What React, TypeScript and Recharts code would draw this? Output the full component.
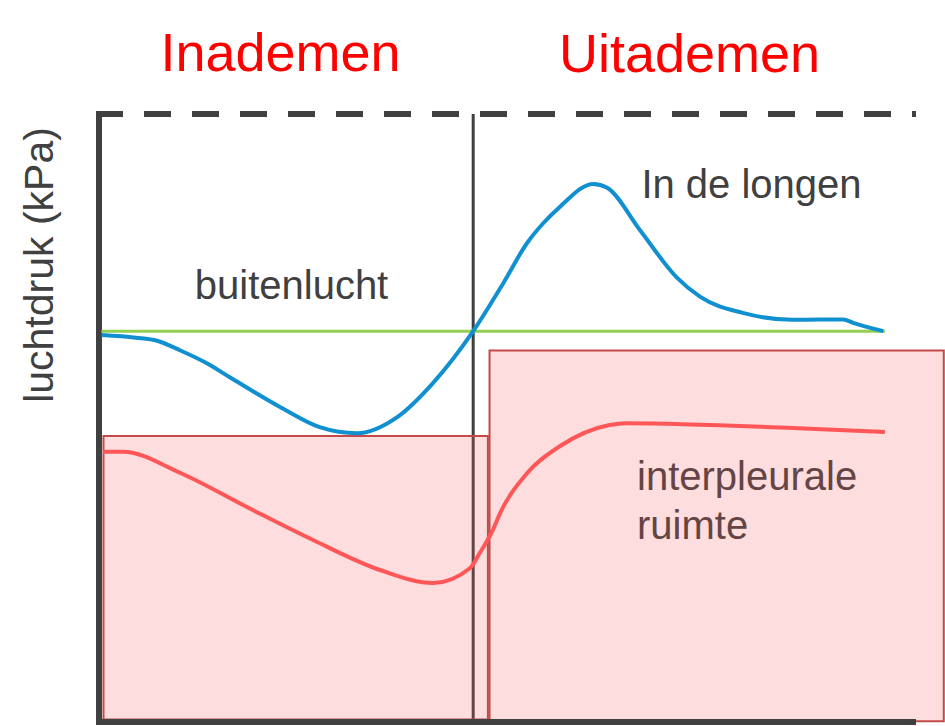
import { LineChart, Line, XAxis, YAxis, ReferenceLine, ReferenceArea } from "recharts";

// time (arbitrary units, 0..10) and pressure relative to outside air
const lungTime = [0.03, 0.45, 0.71, 0.99, 1.32, 1.6, 2.22, 2.7, 3.16, 3.65, 4.09, 4.58, 4.95, 5.24, 5.44, 5.64, 6.05, 6.22, 6.62, 7.07, 7.36, 7.88, 8.49, 8.82, 9.11, 9.23, 9.6];
const lungPressure = [-0.09, -0.15, -0.22, -0.44, -0.74, -1.06, -1.75, -2.21, -2.35, -1.98, -1.19, 0, 1.11, 2.03, 2.49, 2.86, 3.39, 3.3, 2.33, 1.24, 0.79, 0.42, 0.26, 0.27, 0.27, 0.19, 0];

const pleuraTime = [0.05, 0.29, 0.99, 1.81, 2.62, 3.44, 4.09, 4.54, 4.66, 4.82, 4.91, 5.24, 5.64, 6.25, 6.46, 8.49, 9.62];
const pleuraPressure = [-2.78, -2.78, -3.26, -4.05, -4.81, -5.5, -5.8, -5.46, -5.11, -4.58, -4.19, -3.27, -2.65, -2.16, -2.12, -2.23, -2.32];

const outsideTime = [0.03, 9.62];
const outsidePressure = [0, 0];

// boundary between breathing in and breathing out
const phaseSplit = 4.58;

// shaded zones: [t1, t2, p1, p2]
const zoneLeft = [0.055, 4.76, -2.415, -8.94];
const zoneRight = [4.78, 10.34, -0.447, -8.98];

const lungData = lungTime.map((t, i) => ({ t, p: lungPressure[i] }));
const pleuraData = pleuraTime.map((t, i) => ({ t, p: pleuraPressure[i] }));
const outsideData = outsideTime.map((t, i) => ({ t, p: outsidePressure[i] }));

const font = '"Liberation Sans", Arial, sans-serif';
const dark = "#404040";

export default function App() {
  return (
    <div style={{ position: "absolute", left: 0, top: 0, width: 945, height: 726, background: "#fff", fontFamily: font }}>
      <div style={{ position: "absolute", left: 280.5, top: 25, transform: "translateX(-50%)", fontSize: 54, lineHeight: "54px", color: "#ff0000", whiteSpace: "nowrap" }}>
        Inademen
      </div>
      <div style={{ position: "absolute", left: 689.5, top: 26, transform: "translateX(-50%)", fontSize: 54, lineHeight: "54px", color: "#ff0000", whiteSpace: "nowrap" }}>
        Uitademen
      </div>
      <div style={{ position: "absolute", left: 39, top: 265, transform: "translate(-50%, -50%) rotate(-90deg)", fontSize: 41, lineHeight: "41px", color: dark, whiteSpace: "nowrap" }}>
        luchtdruk (kPa)
      </div>
      <div style={{ position: "absolute", left: 291.5, top: 265, transform: "translateX(-50%)", fontSize: 40, lineHeight: "40px", color: dark, whiteSpace: "nowrap" }}>
        buitenlucht
      </div>
      <div style={{ position: "absolute", left: 751.5, top: 164, transform: "translateX(-50%)", fontSize: 40, lineHeight: "40px", color: dark, whiteSpace: "nowrap" }}>
        In de longen
      </div>
      <div style={{ position: "absolute", left: 637, top: 452, fontSize: 40, lineHeight: "49px", color: dark }}>
        interpleurale
        <br />
        ruimte
      </div>
      <div style={{ position: "absolute", left: 0, top: 0 }}>
        <LineChart width={945} height={726} margin={{ top: 114, right: 29, bottom: 4, left: 99 }}>
          <XAxis type="number" dataKey="t" domain={[0, 10]} allowDataOverflow hide />
          <YAxis type="number" dataKey="p" domain={[-9, 5]} allowDataOverflow hide />
          <ReferenceLine x={phaseSplit} stroke={dark} strokeWidth={3} zIndex={50} />
          <ReferenceArea
            x1={zoneLeft[0]}
            x2={zoneLeft[1]}
            y1={zoneLeft[2]}
            y2={zoneLeft[3]}
            fill="#f55555"
            fillOpacity={0.2}
            stroke="#c44a4a"
            strokeWidth={2}
            ifOverflow="visible"
          />
          <ReferenceArea
            x1={zoneRight[0]}
            x2={zoneRight[1]}
            y1={zoneRight[2]}
            y2={zoneRight[3]}
            fill="#f55555"
            fillOpacity={0.2}
            stroke="#c44a4a"
            strokeWidth={2}
            ifOverflow="visible"
          />
          {/* frame: solid left and bottom axis, dashed top */}
          <ReferenceLine x={0} stroke={dark} strokeWidth={6} strokeLinecap="square" />
          <ReferenceLine y={-9} stroke={dark} strokeWidth={6} />
          <ReferenceLine y={5} stroke={dark} strokeWidth={6} strokeDasharray="27 21" strokeDashoffset={3} />
          <Line data={outsideData} dataKey="p" type="linear" stroke="#92d050" strokeWidth={3} dot={false} isAnimationActive={false} />
          <Line data={lungData} dataKey="p" type="monotone" stroke="#1090d0" strokeWidth={4} dot={false} isAnimationActive={false} />
          <Line data={pleuraData} dataKey="p" type="monotone" stroke="#ff5757" strokeWidth={4} dot={false} isAnimationActive={false} />
        </LineChart>
      </div>
    </div>
  );
}
